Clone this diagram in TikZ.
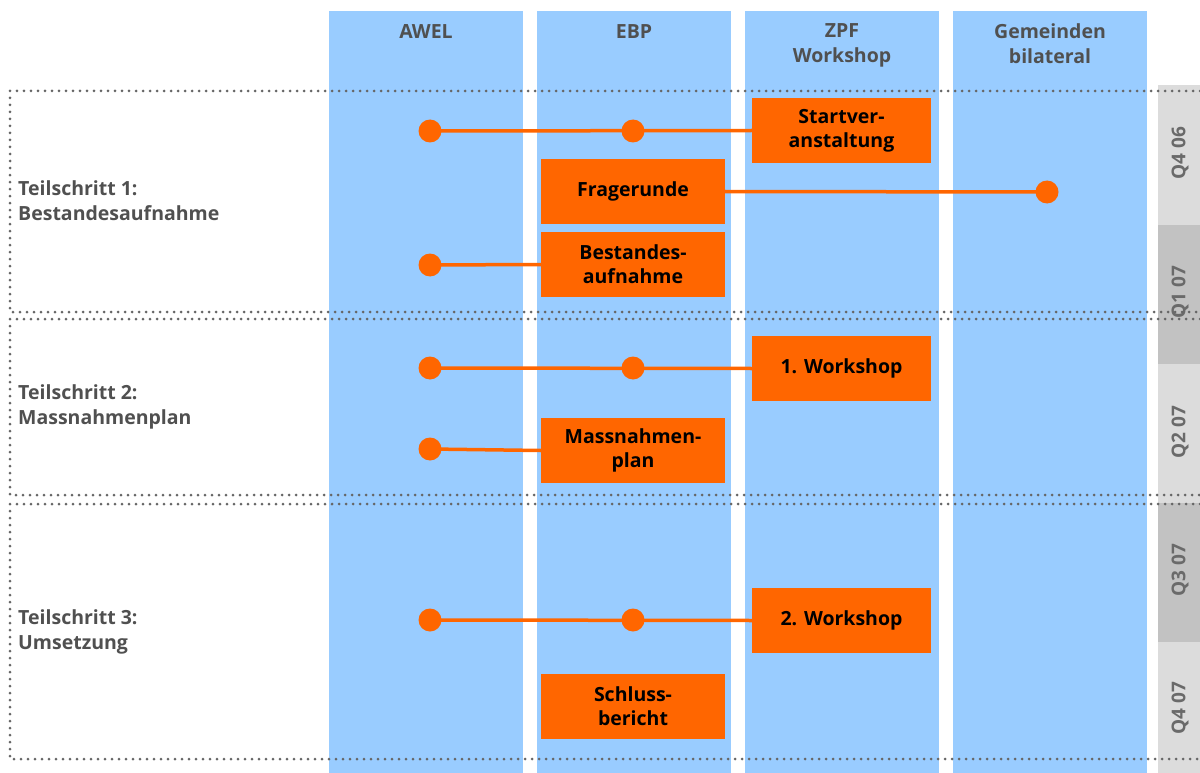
\documentclass[tikz,border=0pt]{standalone}
\usepackage{fontspec}
\setmainfont{Open Sans}
\usetikzlibrary{positioning}
\definecolor{laneblue}{HTML}{99CCFF}
\definecolor{taskorange}{HTML}{FF6600}
\definecolor{headgray}{HTML}{505050}
\definecolor{dotgray}{HTML}{666666}
\definecolor{qlight}{HTML}{DCDCDC}
\definecolor{qdark}{HTML}{C2C2C2}
\tikzset{
  task/.style={fill=taskorange, minimum height=65pt, inner sep=0pt, align=center,
    font=\bfseries\fontsize{19.5}{24}\selectfont},
  ebptask/.style={task, minimum width=184pt},
  zpftask/.style={task, minimum width=179pt},
  lanehead/.style={text=headgray, align=center, font=\bfseries\fontsize{19.5}{25}\selectfont},
  phase/.style={text=headgray, align=left, inner sep=0pt, anchor=west,
    font=\bfseries\fontsize{19.5}{25}\selectfont},
  quarter/.style={text=headgray!85, rotate=90, font=\bfseries\fontsize{19}{22}\selectfont},
  link/.style={draw=taskorange, line width=3.5pt},
  dotline/.style={draw=dotgray, line width=3pt, line cap=round, dash pattern=on 0pt off 7pt}
}
\begin{document}
\begin{tikzpicture}[x=1pt,y=-1pt]
	\useasboundingbox (0,0) rectangle (1200,773);
	\def\lanetop{11}
	\def\lanew{194}

	\foreach \lx in {329,537,745,953}
		\fill[laneblue] (\lx,\lanetop) rectangle ++(\lanew,773-\lanetop);

	\node[lanehead, anchor=base] (hawel) at (426,39) {AWEL};
	\node[lanehead, anchor=base] (hebp) at (634,39) {EBP};
	\node[lanehead, anchor=north] (hzpf) at (842,20) {ZPF\\Workshop};
	\node[lanehead, anchor=north] (hgem) at (1050,20) {Gemeinden\\bilateral};

	\fill[qlight] (1158,85) rectangle (1200,225);
	\fill[qdark] (1158,225) rectangle (1200,364);
	\fill[qlight] (1158,364) rectangle (1200,503);
	\fill[qdark] (1158,503) rectangle (1200,642);
	\fill[qlight] (1158,642) rectangle (1200,773);
	\node[quarter] (q1) at (1180,153) {Q4 06};
	\node[quarter] (q2) at (1180,292) {Q1 07};
	\node[quarter] (q3) at (1180,432) {Q2 07};
	\node[quarter] (q4) at (1180,570) {Q3 07};
	\node[quarter] (q5) at (1180,708) {Q4 07};

	\draw[dotline] (1200,91) -- (10,91) -- (10,312) -- (1200,312);
	\draw[dotline] (1200,319) -- (10,319) -- (10,495) -- (1200,495);
	\draw[dotline] (1200,504) -- (10,504) -- (10,759) -- (1200,759);

	\node[phase] (ts1) at (18,201) {Teilschritt 1:\\Bestandesaufnahme};
	\node[phase] (ts2) at (18,407) {Teilschritt 2:\\Massnahmenplan};
	\node[phase] (ts3) at (18,632) {Teilschritt 3:\\Umsetzung};

	\node[zpftask] (start) at (841.5,130.5) {Startver-\\anstaltung};
	\node[ebptask] (frage) at (633,191.5) {Fragerunde};
	\node[ebptask] (bestand) at (633,264.5) {Bestandes-\\aufnahme};
	\node[zpftask] (ws1) at (841.5,368.5) {1. Workshop};
	\node[ebptask] (mplan) at (633,450.5) {Massnahmen-\\plan};
	\node[zpftask] (ws2) at (841.5,620.5) {2. Workshop};
	\node[ebptask] (schluss) at (633,706.5) {Schluss-\\bericht};

	\coordinate (A1) at (430,131);
	\coordinate (E1) at (633,131);
	\coordinate (G1) at (1047,192);
	\coordinate (A2) at (430,265);
	\coordinate (A3) at (430,368);
	\coordinate (E3) at (633,368);
	\coordinate (A4) at (430,449);
	\coordinate (A5) at (430,620);
	\coordinate (E5) at (633,620);

	\draw[link] (A1) -- (start.west);
	\draw[link] (frage.east) -- (G1);
	\draw[link] (A2) -- (bestand.west);
	\draw[link] (A3) -- (ws1.west);
	\draw[link] (A4) -- (mplan.west);
	\draw[link] (A5) -- (ws2.west);

	\foreach \p in {A1,E1,G1,A2,A3,E3,A4,A5,E5}
		\fill[taskorange] (\p) circle (11.5);

\end{tikzpicture}
\end{document}
